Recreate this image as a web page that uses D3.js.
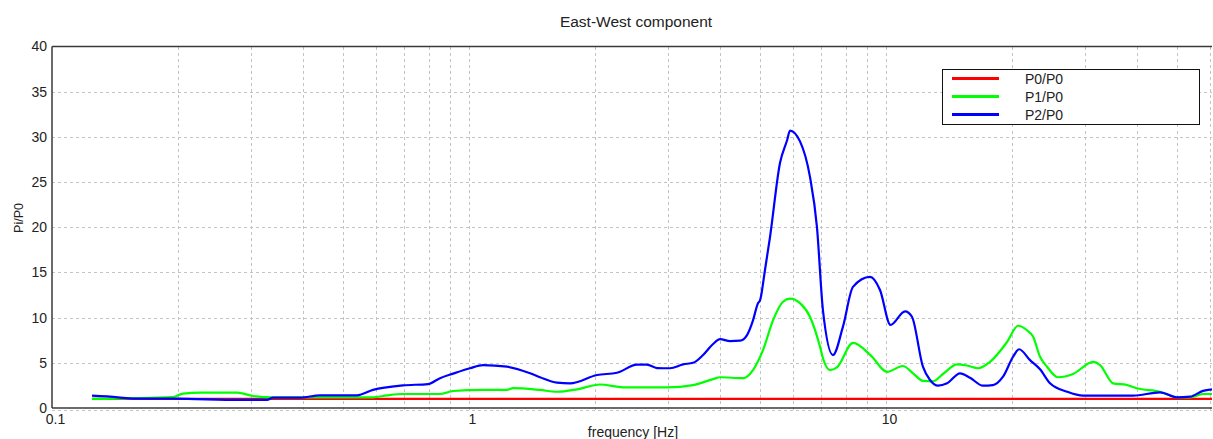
<!DOCTYPE html>
<html>
<head>
<meta charset="utf-8">
<script src="https://cdn.jsdelivr.net/npm/d3@7"></script>
<style>
  html, body { margin: 0; padding: 0; background: #ffffff; }
  svg { display: block; font-family: "Liberation Sans", Arial, sans-serif; }
</style>
</head>
<body>
<svg id="chart" width="1213" height="439"></svg>
<script>
// Spectral ratios, East-West component
const seriesNames = ["P0/P0", "P1/P0", "P2/P0"];
const seriesColors = ["#ff0000", "#00ff00", "#0000ff"];

const p0Freq = [0.1247, 60.5];
const p0Vals = [1.0, 1.0];

const p1Freq = [0.1247, 0.195, 0.2062, 0.2264, 0.2778, 0.3034, 0.3388, 0.5886, 0.636, 0.6947,
  0.852, 0.9155, 1.08, 1.233, 1.275, 1.48, 1.626, 1.816, 2.061, 2.341,
  2.984, 3.446, 3.848, 3.999, 4.542, 4.798, 5.07, 5.358, 5.662, 5.886,
  6.22, 6.57, 6.944, 7.06, 7.337, 7.627, 8.333, 9.2, 10.06, 10.98,
  11.61, 12.26, 12.96, 13.7, 14.8, 15.64, 16.62, 17.76, 19.51,
  20.73, 21.79, 22.52, 23.41, 24.33, 25.85, 28.08, 31.37, 32.61, 35.03,
  37.84, 39.99, 45.41, 49.87, 53.58, 57.57, 60.5];
const p1Vals = [1.0, 1.2, 1.6, 1.7, 1.7, 1.33, 1.18, 1.18, 1.4, 1.55,
  1.55, 1.88, 2.0, 2.0, 2.2, 2.0, 1.8, 2.07, 2.6, 2.29,
  2.29, 2.54, 3.2, 3.4, 3.3, 4.2, 6.4, 9.7, 11.76, 12.1,
  11.6, 10.1, 6.8, 5.5, 4.2, 4.5, 7.2, 5.8, 4.0, 4.65,
  3.84, 3.0, 2.95, 3.76, 4.83, 4.7, 4.4, 5.1, 7.3,
  9.1, 8.6, 7.9, 5.67, 4.57, 3.4, 3.76, 5.1, 4.75, 2.73,
  2.54, 2.18, 1.8, 1.18, 1.18, 1.55, 1.55];

const p2Freq = [0.1247, 0.144, 0.1564, 0.195, 0.2823, 0.3278, 0.3388, 0.3933, 0.4392, 0.5386,
  0.5886, 0.6947, 0.7975, 0.852, 0.9155, 1.0055, 1.08, 1.233, 1.401, 1.48,
  1.626, 1.747, 2.028, 2.264, 2.529, 2.672, 2.823, 3.034, 3.261, 3.446,
  3.642, 3.848, 3.999, 4.227, 4.467, 4.642, 4.798, 4.932, 4.987, 5.127,
  5.27, 5.569, 5.789, 5.886, 6.22, 6.57, 6.829, 7.06, 7.46, 7.884,
  8.333, 9.155, 9.674, 10.25, 11.11, 11.54, 12.26, 12.75, 13.33, 14.01,
  15.05, 15.9, 17.08, 18.05, 19.08, 20.17, 20.85, 22.15, 23.41, 24.74,
  27.17, 29.69, 39.12, 45.41, 49.87, 53.58, 57.57, 60.5];
const p2Vals = [1.36, 1.18, 1.03, 1.03, 0.9, 0.9, 1.14, 1.14, 1.4, 1.4,
  2.0, 2.5, 2.65, 3.3, 3.8, 4.4, 4.75, 4.57, 3.84, 3.4,
  2.8, 2.73, 3.65, 3.9, 4.8, 4.8, 4.42, 4.4, 4.83, 5.0,
  5.86, 7.08, 7.63, 7.4, 7.45, 8.07, 9.7, 11.6, 11.9, 15.3,
  18.9, 27.1, 29.6, 30.7, 29.5, 25.6, 20.05, 10.8, 5.86, 9.0,
  13.4, 14.5, 13.05, 9.2, 10.7, 10.1, 4.57, 3.1, 2.47, 2.73,
  3.84, 3.35, 2.47, 2.54, 3.46, 5.67, 6.5, 5.3, 4.28, 2.73,
  1.8, 1.36, 1.36, 1.73, 1.18, 1.25, 1.9, 2.07];

const xTickValues = [0.1, 1, 10];
const xGridValues = [0.2, 0.3, 0.4, 0.5, 0.6, 0.7, 0.8, 0.9, 1, 2, 3, 4, 5, 6, 7, 8, 9, 10, 20, 30, 40, 50, 60];
const yTickValues = [0, 5, 10, 15, 20, 25, 30, 35, 40];

const titleText = "East-West component";
const xLabelText = "frequency [Hz]";
const yLabelText = "Pi/P0";

const svg = d3.select("#chart");
const plot = { left: 52, right: 1212, top: 46.5, bottom: 408 };

const x = d3.scaleLog().domain([0.1, 60.5]).range([plot.left, plot.right]);
const y = d3.scaleLinear().domain([0, 40]).range([plot.bottom, plot.top]);

// dashed grid
const grid = svg.append("g").attr("stroke", "#c4c4c4").attr("stroke-dasharray", "3,3")
  .attr("shape-rendering", "crispEdges");
grid.selectAll("line.vx").data(xGridValues).join("line")
  .attr("x1", d => Math.round(x(d)) + 0.5).attr("x2", d => Math.round(x(d)) + 0.5)
  .attr("y1", plot.top).attr("y2", plot.bottom + 2);
grid.selectAll("line.hy").data(yTickValues.filter(v => v > 0 && v < 40)).join("line")
  .attr("x1", plot.left).attr("x2", plot.right)
  .attr("y1", d => Math.round(y(d)) + 0.5).attr("y2", d => Math.round(y(d)) + 0.5);
grid.append("line").attr("x1", plot.left).attr("x2", plot.right)
  .attr("y1", plot.bottom + 2).attr("y2", plot.bottom + 2);

// frame
const frame = svg.append("g").attr("stroke", "#3a3a3a").attr("stroke-width", 1.5).attr("fill", "none");
frame.append("line").attr("x1", plot.left).attr("x2", plot.left).attr("y1", plot.top).attr("y2", plot.bottom);
frame.append("line").attr("x1", plot.left).attr("x2", plot.right).attr("y1", plot.top).attr("y2", plot.top);
frame.append("line").attr("x1", plot.left).attr("x2", plot.right).attr("y1", plot.bottom).attr("y2", plot.bottom);

// axes (labels only, no tick marks)
const xAxis = d3.axisBottom(x).tickValues(xTickValues).tickFormat(d3.format("~g")).tickSize(0).tickPadding(0);
const gx = svg.append("g").attr("transform", `translate(3,${plot.bottom + 6})`).call(xAxis);
gx.select(".domain").remove();
gx.selectAll("text").attr("fill", "#222").attr("font-size", 14).attr("dy", "0.71em")
  .attr("font-family", "Liberation Sans, Arial, sans-serif");

const yAxis = d3.axisLeft(y).tickValues(yTickValues).tickSize(0).tickPadding(0);
const gy = svg.append("g").attr("transform", `translate(${plot.left - 5},0)`).call(yAxis);
gy.select(".domain").remove();
gy.selectAll("text").attr("fill", "#222").attr("font-size", 14)
  .attr("font-family", "Liberation Sans, Arial, sans-serif");

// series
const series = [
  { name: seriesNames[0], color: seriesColors[0], f: p0Freq, v: p0Vals },
  { name: seriesNames[1], color: seriesColors[1], f: p1Freq, v: p1Vals },
  { name: seriesNames[2], color: seriesColors[2], f: p2Freq, v: p2Vals }
];
const line = d3.line().x(d => x(d[0])).y(d => y(d[1])).curve(d3.curveMonotoneX);
svg.append("g").selectAll("path").data(series).join("path")
  .attr("fill", "none").attr("stroke", d => d.color).attr("stroke-width", 2.2)
  .attr("stroke-linejoin", "round")
  .attr("d", d => line(d.f.map((fv, i) => [fv, d.v[i]])));

// legend
const legend = svg.append("g").attr("transform", "translate(942,69)");
legend.append("rect").attr("x", 0.5).attr("y", 0.5).attr("width", 257).attr("height", 55)
  .attr("fill", "#ffffff").attr("stroke", "#111").attr("stroke-width", 1);
const items = legend.selectAll("g.item").data(series).join("g")
  .attr("transform", (d, i) => `translate(0,${9.5 + i * 18})`);
items.append("line").attr("x1", 10).attr("x2", 57).attr("y1", 0).attr("y2", 0)
  .attr("stroke", d => d.color).attr("stroke-width", 3);
items.append("text").attr("x", 83).attr("y", 0).attr("dy", "0.36em")
  .attr("font-size", 14).attr("fill", "#222").text(d => d.name);

// titles
svg.append("text").attr("x", 636).attr("y", 27).attr("text-anchor", "middle")
  .attr("font-size", 15.5).attr("fill", "#222").text(titleText);
svg.append("text").attr("x", 633).attr("y", 437).attr("text-anchor", "middle")
  .attr("font-size", 14).attr("fill", "#222").text(xLabelText);
svg.append("text").attr("transform", "translate(23,218) rotate(-90)").attr("text-anchor", "middle")
  .attr("font-size", 12.5).attr("fill", "#222").text(yLabelText);
</script>
</body>
</html>
